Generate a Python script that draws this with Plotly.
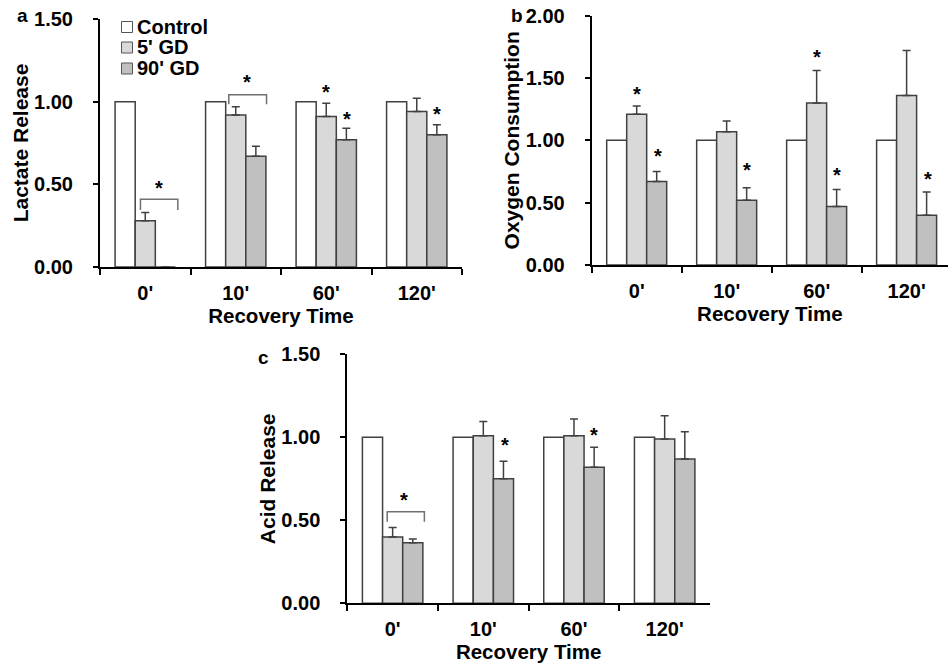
import plotly.graph_objects as go

# ---------------- data ----------------
categories = ["0'", "10'", "60'", "120'"]
series_names = ["Control", "5' GD", "90' GD"]

# Panel a: Lactate Release
lact_control = [1.00, 1.00, 1.00, 1.00]
lact_5gd = [0.28, 0.92, 0.91, 0.94]
lact_5gd_err = [0.05, 0.05, 0.08, 0.08]
lact_90gd = [0.0, 0.67, 0.77, 0.80]
lact_90gd_err = [0.0, 0.06, 0.07, 0.06]

# Panel b: Oxygen Consumption
oxy_control = [1.00, 1.00, 1.00, 1.00]
oxy_5gd = [1.21, 1.07, 1.30, 1.36]
oxy_5gd_err = [0.065, 0.085, 0.26, 0.36]
oxy_90gd = [0.67, 0.52, 0.47, 0.40]
oxy_90gd_err = [0.08, 0.10, 0.135, 0.185]

# Panel c: Acid Release
acid_control = [1.00, 1.00, 1.00, 1.00]
acid_5gd = [0.40, 1.01, 1.01, 0.99]
acid_5gd_err = [0.057, 0.086, 0.10, 0.14]
acid_90gd = [0.365, 0.75, 0.82, 0.87]
acid_90gd_err = [0.022, 0.106, 0.12, 0.163]

# y tick values
ticks_ac = [0.0, 0.5, 1.0, 1.5]
ticks_b = [0.0, 0.5, 1.0, 1.5, 2.0]

# significance asterisks: (category index + offset, y value)
stars_a = [(0.157, 0.49), (1.125, 1.13), (2.0, 1.07), (2.233, 0.91), (3.226, 0.94)]
stars_b = [(0.0, 1.39), (0.24, 0.89), (1.23, 0.775), (2.0, 1.684), (2.23, 0.735), (3.24, 0.703)]
stars_c = [(0.13, 0.636), (1.24, 0.967), (2.22, 1.028)]
# brackets: (x0, x1, y_top, y_end)
brackets_a = [(-0.053, 0.36, 0.41, 0.345), (0.923, 1.34, 1.042, 0.984)]
brackets_c = [(-0.06, 0.35, 0.552, 0.492)]

# ---------------- style ----------------
FONT = "Liberation Sans, Arial, sans-serif"
fills = ["#ffffff", "#d9d9d9", "#c0c0c0"]
edge = "#404040"
W, H = 948, 663

fig = go.Figure()

panels = [
    ("x", "y", [lact_control, lact_5gd, lact_90gd], [None, lact_5gd_err, lact_90gd_err]),
    ("x2", "y2", [oxy_control, oxy_5gd, oxy_90gd], [None, oxy_5gd_err, oxy_90gd_err]),
    ("x3", "y3", [acid_control, acid_5gd, acid_90gd], [None, acid_5gd_err, acid_90gd_err]),
]

for xa, ya, vals, errs in panels:
    for i, name in enumerate(series_names):
        err = None
        if errs[i] is not None:
            err = dict(type="data", array=errs[i], arrayminus=[0] * 4, symmetric=False,
                       color=edge, thickness=1.5, width=4)
        fig.add_trace(go.Bar(
            x=categories, y=vals[i], name=name, xaxis=xa, yaxis=ya,
            marker=dict(color=fills[i], line=dict(color=edge, width=1.5)),
            error_y=err, showlegend=False, legendgroup=name,
        ))

def yax(domain, rng, tickvals, title, anchor):
    return dict(
        domain=domain, range=rng, tickmode="array", tickvals=tickvals,
        ticktext=[f"{v:.2f}" for v in tickvals], anchor=anchor,
        showline=True, linewidth=2, linecolor="black", ticks="outside", ticklen=5,
        tickwidth=2, tickcolor="black", showgrid=False, zeroline=False, automargin=False,
        ticklabeloverflow="allow",
        tickfont=dict(family=FONT, size=20, color="black", weight="bold"),
        title=dict(text=title, font=dict(family=FONT, size=21, color="black", weight="bold"), standoff=0),
        ticklabelstandoff=16,
    )

def xax(domain, rng, anchor):
    return dict(
        domain=domain, range=rng, type="category", anchor=anchor, automargin=False,
        showline=True, linewidth=2, linecolor="black", ticks="outside", ticklen=6,
        tickwidth=2, tickcolor="black", tickson="boundaries", showgrid=False,
        tickfont=dict(family=FONT, size=20, color="black", weight="bold"),
        title=dict(text="Recovery Time", font=dict(family=FONT, size=20.5, color="black", weight="bold"), standoff=0),
        ticklabelstandoff=7,
    )

def px_x(v):
    return v / W
def px_y(v):
    return 1 - v / H
def xd(a, b):
    return [px_x(a), min(px_x(b), 1.0)]
def yd(top, bottom):
    return [px_y(bottom), px_y(top)]

fig.update_layout(
    width=W, height=H, margin=dict(l=0, r=0, t=0, b=0, autoexpand=False),
    paper_bgcolor="white", plot_bgcolor="white",
    barmode="group", bargap=1/3, bargroupgap=0, showlegend=False,
    font=dict(family=FONT, size=20, color="black"),
    xaxis=xax(xd(100, 462), [-0.5, 3.5], "y"),
    yaxis=yax(yd(19, 267), [0, 1.5001], ticks_ac, "Lactate Release", "x"),
    xaxis2=xax(xd(591.7, 948), [-0.5, 3.46], "y2"),
    yaxis2=yax(yd(15.7, 265), [0, 2.0001], ticks_b, "Oxygen Consumption", "x2"),
    xaxis3=xax(xd(347.3, 710), [-0.5, 3.5], "y3"),
    yaxis3=yax(yd(354.3, 603.3), [0, 1.5001], ticks_ac, "Acid Release", "x3"),
)

ann = []
for suffix, stars in (("", stars_a), ("2", stars_b), ("3", stars_c)):
    for sx, sy in stars:
        ann.append(dict(x=sx, y=sy, xref="x" + suffix, yref="y" + suffix, text="*", showarrow=False,
                        font=dict(family=FONT, size=20, color="black", weight="bold"),
                        yanchor="middle", yshift=-2))

# panel letters
for lx, ly, t in ((22, 15, "a"), (517, 15, "b"), (263, 357, "c")):
    ann.append(dict(x=px_x(lx), y=px_y(ly), xref="paper", yref="paper", text=t, showarrow=False,
                    font=dict(family=FONT, size=19, color="black", weight="bold"),
                    xanchor="center", yanchor="middle", borderpad=0))

# legend (drawn inside panel a)
legend_rows_y = [27, 47.5, 68.5]
for name, fill, ly in zip(series_names, fills, legend_rows_y):
    fig.add_shape(type="rect", xref="paper", yref="paper",
                  x0=px_x(121.5), x1=px_x(132.5), y0=px_y(ly + 5.5), y1=px_y(ly - 5.5),
                  fillcolor=fill, line=dict(color="#555555", width=1))
    ann.append(dict(x=px_x(135), y=px_y(ly), xref="paper", yref="paper", text=name, showarrow=False,
                    font=dict(family=FONT, size=20, color="black", weight="bold"),
                    xanchor="left", yanchor="middle"))
fig.update_layout(annotations=ann)

for suffix, brs in (("", brackets_a), ("3", brackets_c)):
    for x0, x1, yt, ye in brs:
        fig.add_shape(type="path", xref="x" + suffix, yref="y" + suffix,
                      path=f"M {x0} {ye} L {x0} {yt} L {x1} {yt} L {x1} {ye}",
                      line=dict(color="#707070", width=1.5))

# remove the default 8px page margin so the figure fills the window exactly
fig.write_html("out.html", config={"displayModeBar": False},
               post_script="document.body.style.margin='0';")
